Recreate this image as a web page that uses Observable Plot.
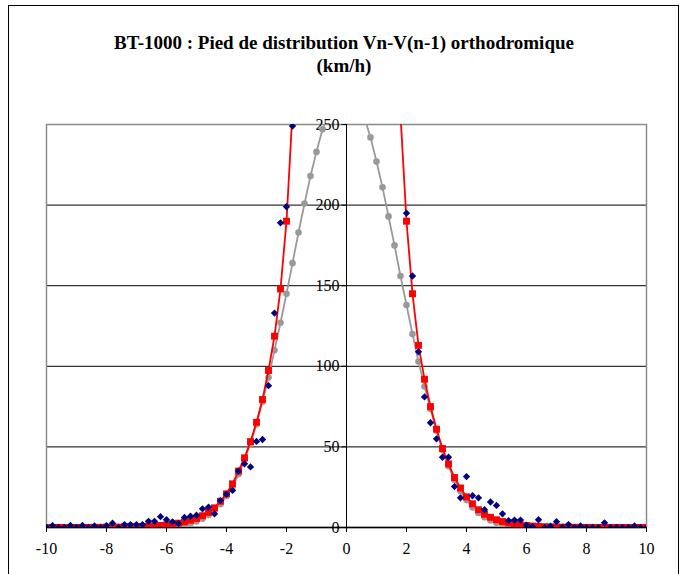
<!DOCTYPE html>
<html>
<head>
<meta charset="utf-8">
<script src="https://cdn.jsdelivr.net/npm/d3@7"></script>
<script src="https://cdn.jsdelivr.net/npm/@observablehq/plot@0.6"></script>
<style>
  html, body { margin: 0; padding: 0; background: #fff; }
  #wrap { position: relative; width: 682px; height: 574px; overflow: hidden; background: #fff; }
  #border { position: absolute; left: 8px; top: 5px; width: 671px; height: 620px; border: 1px solid #000; box-sizing: border-box; }
  #title { position: absolute; left: 9px; width: 670px; top: 31px; text-align: center;
           font-family: 'Liberation Serif', 'Times New Roman', serif; font-weight: bold; font-size: 19px; line-height: 23px; color: #000; }
  #chart { position: absolute; left: 0; top: 100px; }
</style>
</head>
<body>
<div id="wrap">
  <div id="border"></div>
  <div id="title">BT-1000 : Pied de distribution Vn-V(n-1) orthodromique<br>(km/h)</div>
  <div id="chart"></div>
</div>
<script>
// x categories (km/h), every 0.2
const xs = [
  -10, -9.8, -9.6, -9.4, -9.2, -9, -8.8, -8.6, -8.4, -8.2,
  -8, -7.8, -7.6, -7.4, -7.2, -7, -6.8, -6.6, -6.4, -6.2,
  -6, -5.8, -5.6, -5.4, -5.2, -5, -4.8, -4.6, -4.4, -4.2,
  -4, -3.8, -3.6, -3.4, -3.2, -3, -2.8, -2.6, -2.4, -2.2,
  -2, -1.8, -1.6, -1.4, -1.2, -1, -0.8, -0.6, -0.4, -0.2,
  0, 0.2, 0.4, 0.6, 0.8, 1, 1.2, 1.4, 1.6, 1.8,
  2, 2.2, 2.4, 2.6, 2.8, 3, 3.2, 3.4, 3.6, 3.8,
  4, 4.2, 4.4, 4.6, 4.8, 5, 5.2, 5.4, 5.6, 5.8,
  6, 6.2, 6.4, 6.6, 6.8, 7, 7.2, 7.4, 7.6, 7.8,
  8, 8.2, 8.4, 8.6, 8.8, 9, 9.2, 9.4, 9.6, 9.8,
  10
];
// observed distribution (blue diamonds)
const observed = [
  0, 1.2, 0, 0, 1.3, 0, 1.3, 0, 1, 0,
  1.2, 2.7, 0, 1.8, 1.8, 1.8, 1.8, 3.8, 3.8, 6.7,
  4.8, 3.5, 2.5, 6.2, 7, 7.6, 11.6, 12.6, 8.5, 16.7,
  20.7, 23, 35, 39.5, 37.6, 53.4, 54.6, 88, 133, 189,
  199, 249, 310, 380, 450, 540, 620, 700, 780, 850,
  900, 860, 790, 700, 610, 520, 440, 370, 310, 265,
  195, 156, 109, 81, 65, 55, 43.6, 43.6, 25.4, 18.4,
  31.6, 19.7, 18.4, 11, 15.8, 13.7, 8.5, 4.3, 4.6, 4.6,
  1.5, 0.6, 4.8, 0, 0.9, 3.6, 0.2, 1.8, 0, 1,
  0, 0, 0, 2.9, 0, 0, 0, 0, 1, 0,
  0
];
// fitted curve (red squares)
const fitRed = [
  0.01, 0.02, 0.02, 0.03, 0.04, 0.05, 0.06, 0.07, 0.09, 0.12,
  0.15, 0.19, 0.24, 0.3, 0.4, 0.5, 0.6, 0.8, 1.0, 1.3,
  1.6, 2.1, 2.7, 3.5, 4.5, 5.6, 7.3, 9.4, 12.2, 16.3,
  20.9, 27.1, 35, 43.2, 53.3, 65.3, 79.4, 97.4, 118.7, 148,
  190, 258, 340, 440, 560, 700, 860, 1040, 1230, 1400,
  1480, 1400, 1230, 1040, 860, 700, 560, 440, 340, 256,
  190, 145, 113, 92, 75, 61, 49, 39.5, 31, 24.5,
  19, 14.7, 11, 8.2, 6.3, 4.8, 3.7, 2.8, 2.1, 1.6,
  1.2, 0.9, 0.7, 0.5, 0.4, 0.3, 0.23, 0.17, 0.13, 0.1,
  0.08, 0.06, 0.05, 0.04, 0.03, 0.02, 0.02, 0.01, 0.01, 0.01,
  0.01
];
// gaussian curve (grey circles)
const fitGrey = [
  0, 0, 0, 0, 0, 0, 0, 0, 0, 0,
  0, 0, 0.01, 0.01, 0.02, 0.03, 0.05, 0.09, 0.15, 0.25,
  0.4, 0.7, 1.1, 1.7, 2.5, 3.7, 5.4, 7.7, 10.7, 14.5,
  19.5, 25, 33, 42, 52, 64, 78, 93, 110, 127,
  145, 164, 183, 201, 218, 233, 247, 255, 262, 266,
  267, 265, 260, 254, 242, 227, 211, 193, 175, 156,
  138, 120, 103, 87.5, 73.5, 60, 48, 38, 29.5, 22.5,
  17, 12.5, 9, 6.3, 4.3, 2.9, 1.9, 1.2, 0.8, 0.5,
  0.3, 0.2, 0.1, 0.06, 0.03, 0.02, 0.01, 0, 0, 0,
  0, 0, 0, 0, 0, 0, 0, 0, 0, 0,
  0
];
const xTicks = [-10, -8, -6, -4, -2, 0, 2, 4, 6, 8, 10];
const yTicks = [0, 50, 100, 150, 200, 250];
const yGrid = [50, 100, 150, 200];

const rows = xs.map((x, i) => ({x, obs: observed[i], red: fitRed[i], grey: fitGrey[i]}));

const FONT = "'Liberation Serif', 'Times New Roman', serif";
const tickLeft = { draw(ctx) { ctx.moveTo(-5, 0); ctx.lineTo(0, 0); } };

const chart = Plot.plot({
  width: 682,
  height: 474,
  marginTop: 24,
  marginBottom: 47,
  marginLeft: 46,
  marginRight: 36,
  style: { fontFamily: FONT, fontSize: "16px", background: "transparent", color: "#000" },
  x: { domain: [-10, 10] },
  y: { domain: [0, 250] },
  marks: [
    Plot.ruleY(yGrid, { stroke: "#000", strokeWidth: 1 }),
    Plot.frame({ stroke: "#8a8a8a", strokeWidth: 1.5 }),
    Plot.ruleX([0], { stroke: "#000", strokeWidth: 1 }),
    Plot.ruleY([0], { stroke: "#000", strokeWidth: 1.3 }),
    Plot.axisX({ ticks: xTicks, tickSize: 5, tickPadding: 10, tickFormat: d => `${d}`, label: null, fontSize: 16, fontFamily: FONT }),
    Plot.axisY({ ticks: [], label: null }),
    Plot.dot(yTicks, { x: () => 0, y: d => d, symbol: tickLeft, r: 3, stroke: "#000", fill: "none", strokeWidth: 1 }),
    Plot.text(yTicks, { x: () => 0, y: d => d, text: d => `${d}`, textAnchor: "end", dx: -7, fontSize: 16, fontFamily: FONT, fill: "#000" }),
    Plot.line(rows, { x: "x", y: "grey", stroke: "#999999", strokeWidth: 1.8, clip: true }),
    Plot.dot(rows, { x: "x", y: "grey", r: 3.3, fill: "#999999", stroke: "none", clip: true }),
    Plot.line(rows, { x: "x", y: "red", stroke: "#ff0000", strokeWidth: 1.8, clip: true }),
    Plot.dot(rows, { x: "x", y: "red", symbol: "square", r: 3.9, fill: "#ff0000", stroke: "none", clip: true }),
    Plot.dot(rows, { x: "x", y: "obs", symbol: "diamond2", r: 3.3, fill: "#000080", stroke: "none", clip: true })
  ]
});
document.getElementById("chart").appendChild(chart);
</script>
</body>
</html>
